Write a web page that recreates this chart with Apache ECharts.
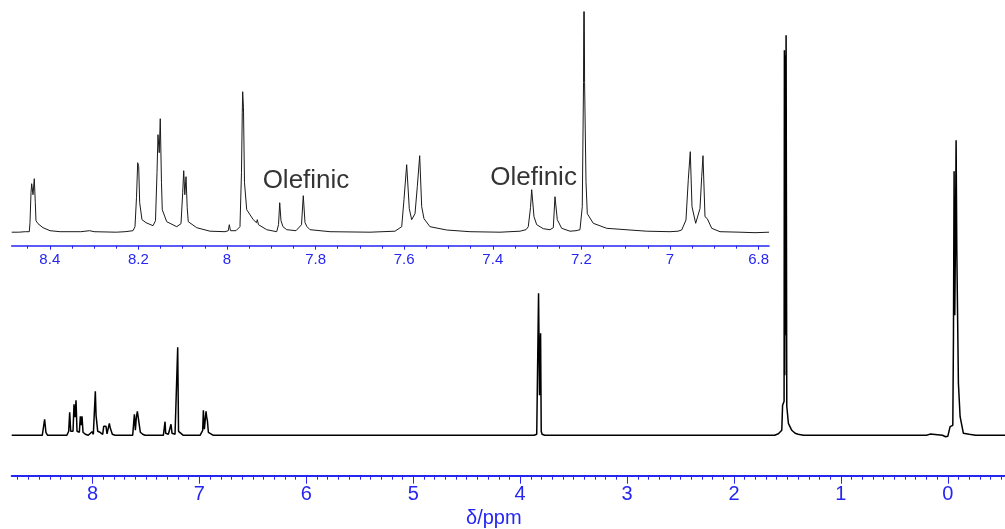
<!DOCTYPE html>
<html>
<head>
<meta charset="utf-8">
<script src="https://cdn.jsdelivr.net/npm/echarts@6/dist/echarts.min.js"></script>
<style>
html,body{margin:0;padding:0;background:#fff;}
#chart{width:1005px;height:529px;}
</style>
</head>
<body>
<div id="chart"></div>
<script>
// Full spectrum (chemical shift ppm, intensity)
const mainShift = [8.756,8.47,8.456,8.452,8.448,8.444,8.440,8.436,8.43,8.42,
  8.24,8.2323,8.2229,8.2136,8.2042,8.1824,8.1731,8.1637,8.1544,8.1450,8.1232,8.1138,8.106,8.0982,8.0889,8.0670,8.04,
  8.0234,8.0047,7.9923,7.983,7.9737,7.967,7.9607,7.9513,7.93,7.914,
  7.905,7.8954,7.885,7.8737,7.8644,7.852,7.8428,7.8334,7.824,7.8147,7.7896,
  7.6242,7.618,7.6087,7.5993,7.59,7.5806,7.5713,7.5619,7.5526,7.5308,7.509,
  7.3374,7.328,7.3218,7.3156,7.2906,7.275,7.2657,7.2563,7.2282,7.2126,7.2033,7.1955,7.1815,7.1503,
  6.9944,6.9788,6.9694,6.9632,6.9538,6.9445,6.9382,6.932,6.9257,6.9164,6.9,6.8697,
  5.53,5.515,5.50,
  3.87,3.845,3.835,3.828,3.819,3.809,3.803,3.795,3.77,
  2.13,2.112,2.095,1.77,1.756,1.74,
  1.62,1.5847,1.5529,1.5454,1.5313,1.5285,1.5250,1.5215,1.5170,1.5126,1.5061,1.4911,1.4593,1.4284,1.40,1.35,1.33,1.319,1.305,
  0.20,0.165,0.15,0.05,0.02,0.0,-0.0215,-0.0468,-0.0530,-0.0589,-0.0650,-0.0720,-0.0776,-0.0842,-0.0898,-0.0992,-0.1151,-0.1459,
  -0.20,-0.26,-0.2713,-0.28,-0.40,-0.41,-0.42,-0.535];
const mainIntensity = [0,0,0,2,16,17,17,3,1.5,0,
  0,2,4,23,4,4,31,18,35,4,3,19,10,19,3,1,0,
  0,3.6,1,3,44,20,22,4,3,1,
  1,9,9,9,1.5,1.5,12,7,6,1,0,
  0,2,21,5,18,24,24,24,3,1,0,
  0,2,13.6,2,1,2,11,2,1,2,88,4,2,0,
  0,2,5,25,6,8,24,18,15,3,1.5,0,
  0,1.5,0,
  0,1,3,142,40,102,4,1,0,
  0,1,0,0,1.5,0,
  0,1.5,5,30,34,385,60,380,100,400,29,12,5,2,1,0,0,1.2,0,
  0,1.2,0,0,-1.5,-1,8.6,10,100,264,120,200,295,185,135,52,18.6,2,
  1,0,1,0,0,1,0,0];

// Expanded aromatic region (inset)
const insetShift = [8.486,8.47,8.455,8.4463,8.4447,8.4424,8.4409,8.4379,8.4350,8.4327,8.4312,8.4266,8.4153,8.3995,8.377,
  8.33,8.31,8.30,8.25,8.23,
  8.2122,8.2077,8.2043,8.2016,8.1993,8.1971,8.1919,8.1828,8.1670,
  8.1614,8.1580,8.1558,8.1530,8.1506,8.1479,8.1461,8.1361,8.1135,
  8.1038,8.1000,8.0977,8.0952,8.0925,8.0898,8.0874,8.0684,8.0384,
  8.0045,7.9971,7.9948,7.9921,7.9797,7.9707,7.9673,7.9655,7.9646,7.9628,7.9605,7.9555,7.9406,7.9334,7.9316,7.9289,7.9104,
  7.8878,7.8837,7.8810,7.8781,7.8736,7.8652,7.8442,7.8318,7.8278,7.8239,7.8194,7.8126,7.7675,7.6772,
  7.6208,7.6056,7.6005,7.5944,7.5885,7.5831,7.5756,7.5704,7.5650,7.5605,7.5553,7.5418,7.5041,7.4515,7.3837,
  7.3386,7.3251,7.3199,7.3149,7.3122,7.3070,7.3009,7.2860,7.2709,7.2634,7.2596,7.2544,7.2445,7.2257,
  7.2122,7.2032,7.1980,7.1952,7.1941,7.1928,7.1896,7.1867,7.1731,7.1429,7.0903,7.0526,6.9999,
  6.9819,6.9736,6.9639,6.9587,6.9542,6.9503,6.9474,6.9420,6.9375,6.9323,6.9284,6.9255,6.9210,6.9158,6.9058,6.8871,
  6.8420,6.8081,6.7765];
const insetIntensity = [0.5,0.5,1,1,10,40,49,38,54,30,12,9,5,2,1,
  1,2,1,0.5,1,
  2,6,35,70,66,30,13,10,7,
  12,60,98,80,114,50,23,11,6,
  9,40,62,38,56,25,11,5,1.5,
  1,2,8,2,2,6,60,120,141,125,50,23,13,10,13,8,3,
  1,8,30,12,6,3,2,8,37,10,6,3,1,0.5,
  1.5,6,33,68,24,13,19,46,77,26,14,6,2.7,1,0.5,
  1.5,3,6,25,43,16,8,4,3,5,36,13,4.4,1.5,
  2,3,26,150,290,150,51,19,9.4,4.4,2.7,1.5,1,
  1.5,2.7,12.7,53,81,26,28,9.4,11,24,56,77,16,14,4.4,1,
  0.5,0,0.5];

const mainTickLabels = [8,7,6,5,4,3,2,1,0];
const insetTickLabels = [8.4,8.2,8.0,7.8,7.6,7.4,7.2,7.0,6.8];
const annotationShift = [7.8217, 7.308];
const annotationHeight = [52, 55];
const annotationText = ['Olefinic', 'Olefinic'];

const BLUE = '#2626f2';
const NARROW = '"Liberation Sans Narrow", "Liberation Sans", Arial, sans-serif';

const mainData = mainShift.map((x, i) => [x, mainIntensity[i]]);
const insetData = insetShift.map((x, i) => [x, insetIntensity[i]]);
const annData = annotationShift.map((x, i) => ({value: [x, annotationHeight[i]], name: annotationText[i]}));

const chart = echarts.init(document.getElementById('chart'), null, {renderer: 'canvas'});
chart.setOption({
  animation: false,
  backgroundColor: '#fff',
  title: {
    text: 'δ/ppm', left: 461, top: 503,
    textStyle: {fontFamily: NARROW, fontSize: 20, fontWeight: 'normal', color: BLUE}
  },
  grid: [
    {left: 11.7, right: 0, top: 20, bottom: 53.3, containLabel: false},
    {left: 11.7, right: 236, top: 12, bottom: 283.3, containLabel: false}
  ],
  xAxis: [
    {
      type: 'value', gridIndex: 0, min: -0.535, max: 8.756, inverse: true, splitNumber: 9,
      axisLine: {show: true, onZero: false, lineStyle: {color: BLUE, width: 2}},
      axisTick: {show: true, length: 8, customValues: mainTickLabels, lineStyle: {color: BLUE, width: 1}},
      minorTick: {show: true, splitNumber: 10, length: 4, lineStyle: {color: BLUE, width: 1}},
      axisLabel: {show: true, customValues: mainTickLabels, margin: 9, color: BLUE, fontFamily: NARROW, fontSize: 20,
        formatter: v => String(v)},
      splitLine: {show: false}
    },
    {
      type: 'value', gridIndex: 1, min: 6.7765, max: 8.486, inverse: true, splitNumber: 8,
      axisLine: {show: true, onZero: false, lineStyle: {color: BLUE, width: 1.5}},
      axisTick: {show: true, length: 4, customValues: insetTickLabels, lineStyle: {color: BLUE, width: 1}},
      minorTick: {show: true, splitNumber: 4, length: 3, lineStyle: {color: BLUE, width: 1}},
      axisLabel: {show: true, customValues: insetTickLabels, margin: 7, color: BLUE, fontFamily: NARROW, fontSize: 15,
        formatter: v => String(v)},
      splitLine: {show: false}
    }
  ],
  yAxis: [
    {type: 'value', gridIndex: 0, min: -40.4, max: 415.3, show: false},
    {type: 'value', gridIndex: 1, min: -13, max: 220.7, show: false}
  ],
  series: [
    {
      type: 'line', xAxisIndex: 0, yAxisIndex: 0, data: mainData, showSymbol: false, symbol: 'none',
      sampling: null, clip: true, lineStyle: {color: '#000', width: 1.5}, z: 3
    },
    {
      type: 'line', xAxisIndex: 1, yAxisIndex: 1, data: insetData, showSymbol: false, symbol: 'none',
      clip: true, lineStyle: {color: '#1a1a1a', width: 1}, z: 3
    },
    {
      type: 'scatter', xAxisIndex: 1, yAxisIndex: 1, data: annData, symbolSize: 0, silent: true,
      label: {show: true, position: 'inside', formatter: p => p.name, color: '#000',
        fontFamily: '"Liberation Sans", Arial, sans-serif', fontSize: 26}
    }
  ]
});
</script>
</body>
</html>
